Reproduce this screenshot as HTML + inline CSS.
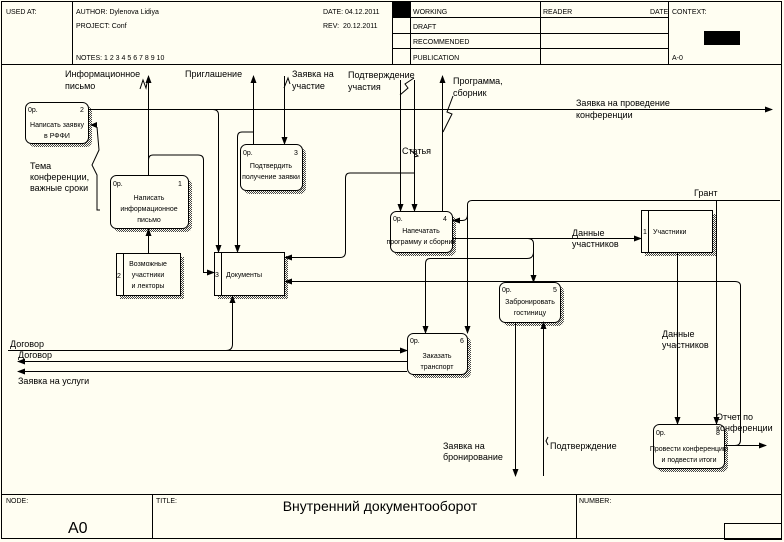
<!DOCTYPE html>
<html><head><meta charset="utf-8"><style>
body{margin:0;background:#fffef2;}
svg{display:block;font-family:"Liberation Sans",sans-serif;}
text{fill:#000;}
.s{font-size:7px;}
.l{font-size:9px;}
</style></head><body>
<svg width="784" height="542" viewBox="0 0 784 542" xmlns="http://www.w3.org/2000/svg">
<defs>
<pattern id="h" width="2" height="2" patternUnits="userSpaceOnUse"><rect width="1" height="1" fill="#444"/><rect x="1" y="1" width="1" height="1" fill="#444"/></pattern>
<marker id="a" markerWidth="8" markerHeight="6" refX="7" refY="3" orient="auto" markerUnits="userSpaceOnUse"><path d="M0,0L8,3L0,6z" fill="#000"/></marker>
</defs>
<rect x="0" y="0" width="784" height="542" fill="#fffef2"/>
<g stroke="#000" stroke-width="1" fill="none">
<rect x="1.5" y="1.5" width="780" height="537"/>
<line x1="1" y1="64.5" x2="782" y2="64.5"/>
<line x1="72.5" y1="1" x2="72.5" y2="64"/>
<line x1="392.5" y1="1" x2="392.5" y2="64"/>
<line x1="410.5" y1="1" x2="410.5" y2="64"/>
<line x1="540.5" y1="1" x2="540.5" y2="64"/>
<line x1="668.5" y1="1" x2="668.5" y2="64"/>
<line x1="392" y1="17.5" x2="668" y2="17.5"/>
<line x1="392" y1="33.5" x2="668" y2="33.5"/>
<line x1="392" y1="48.5" x2="668" y2="48.5"/>
<line x1="1" y1="494.5" x2="782" y2="494.5"/>
<line x1="152.5" y1="494" x2="152.5" y2="539"/>
<line x1="576.5" y1="494" x2="576.5" y2="539"/>
<rect x="724.5" y="523.5" width="57" height="16"/>
</g>
<rect x="393" y="2" width="17" height="16" fill="#000"/>
<rect x="704" y="31" width="36" height="14" fill="#000"/>
<g class="s">
<text x="6" y="14">USED AT:</text>
<text x="76" y="14">AUTHOR: Dylenova Lidiya</text>
<text x="76" y="28">PROJECT: Conf</text>
<text x="76" y="60">NOTES: 1 2 3 4 5 6 7 8 9 10</text>
<text x="323" y="14">DATE: 04.12.2011</text>
<text x="323" y="28">REV: &#160;20.12.2011</text>
<text x="413" y="14">WORKING</text>
<text x="413" y="29">DRAFT</text>
<text x="413" y="44">RECOMMENDED</text>
<text x="413" y="60">PUBLICATION</text>
<text x="543" y="14">READER</text>
<text x="650" y="14">DATE</text>
<text x="672" y="14">CONTEXT:</text>
<text x="672" y="60">A-0</text>
<text x="6" y="503">NODE:</text>
<text x="156" y="503">TITLE:</text>
<text x="579" y="503">NUMBER:</text>
</g>
<text x="68" y="533" style="font-size:16px">A0</text>
<text x="380" y="511" text-anchor="middle" style="font-size:14px">Внутренний документооборот</text>

<g fill="url(#h)">
<rect x="29" y="106" width="63" height="41" rx="6"/>
<rect x="114" y="179" width="78" height="53" rx="6"/>
<rect x="244" y="148" width="62" height="46" rx="6"/>
<rect x="394" y="215" width="62" height="41" rx="6"/>
<rect x="503" y="286" width="61" height="40" rx="6"/>
<rect x="411" y="337" width="60" height="41" rx="6"/>
<rect x="657" y="428" width="71" height="44" rx="6"/>
<rect x="120" y="257" width="64" height="42"/>
<rect x="218" y="256" width="70" height="43"/>
<rect x="645" y="214" width="71" height="42"/>
</g>
<g fill="#fffef2" stroke="#000">
<rect x="25.5" y="102.5" width="63" height="41" rx="6"/>
<rect x="110.5" y="175.5" width="78" height="53" rx="6"/>
<rect x="240.5" y="144.5" width="62" height="46" rx="6"/>
<rect x="390.5" y="211.5" width="62" height="41" rx="6"/>
<rect x="499.5" y="282.5" width="61" height="40" rx="6"/>
<rect x="407.5" y="333.5" width="60" height="41" rx="6"/>
<rect x="653.5" y="424.5" width="71" height="44" rx="6"/>
<rect x="116.5" y="253.5" width="64" height="42"/>
<rect x="214.5" y="252.5" width="70" height="43"/>
<rect x="641.5" y="210.5" width="71" height="42"/>
</g>
<g stroke="#000"><line x1="123.5" y1="253" x2="123.5" y2="296"/><line x1="221.5" y1="252" x2="221.5" y2="296"/><line x1="648.5" y1="210" x2="648.5" y2="253"/></g>
<g class="s">
<text x="28" y="112">0р.</text><text x="80" y="112">2</text>
<text x="57" y="127" text-anchor="middle">Написать заявку</text><text x="57" y="138" text-anchor="middle">в РФФИ</text>
<text x="113" y="186">0р.</text><text x="178" y="186">1</text>
<text x="149" y="200" text-anchor="middle">Написать</text><text x="149" y="211" text-anchor="middle">информационное</text><text x="149" y="222" text-anchor="middle">письмо</text>
<text x="243" y="155">0р.</text><text x="294" y="155">3</text>
<text x="271" y="168" text-anchor="middle">Подтвердить</text><text x="271" y="179" text-anchor="middle">получение заявки</text>
<text x="393" y="221">0р.</text><text x="443" y="221">4</text>
<text x="421" y="233" text-anchor="middle">Напечатать</text><text x="421" y="244" text-anchor="middle">программу и сборник</text>
<text x="502" y="292">0р.</text><text x="553" y="292">5</text>
<text x="530" y="304" text-anchor="middle">Забронировать</text><text x="530" y="315" text-anchor="middle">гостиницу</text>
<text x="410" y="343">0р.</text><text x="460" y="343">6</text>
<text x="437" y="358" text-anchor="middle">Заказать</text><text x="437" y="369" text-anchor="middle">транспорт</text>
<text x="656" y="435">0р.</text><text x="716" y="435">8</text>
<text x="689" y="451" text-anchor="middle">Провести конференцию</text><text x="689" y="462" text-anchor="middle">и подвести итоги</text>
<text x="117" y="278">2</text>
<text x="148" y="266" text-anchor="middle">Возможные</text><text x="148" y="277" text-anchor="middle">участники</text><text x="148" y="288" text-anchor="middle">и лекторы</text>
<text x="215" y="277">3</text><text x="226" y="277">Документы</text>
<text x="643" y="234">1</text><text x="653" y="234">Участники</text>
</g>

<g stroke="#000" fill="none" marker-end="url(#a)">
<line x1="88" y1="109.5" x2="772" y2="109.5"/>
<line x1="148.5" y1="175" x2="148.5" y2="76"/>
<line x1="148.5" y1="253" x2="148.5" y2="229"/>
<path d="M148.5,160 Q148.5,155 153,155 L198,155 Q203.5,155 203.5,160 L203.5,272.5 L214,272.5"/>
<line x1="253.5" y1="144" x2="253.5" y2="76"/>
<path d="M253.5,132 L242,132 Q237.5,132 237.5,137 L237.5,252"/>
<path d="M213,109.5 Q218.5,109.5 218.5,115 L218.5,252"/>
<line x1="284.5" y1="76" x2="284.5" y2="144"/>
<line x1="400.5" y1="80" x2="400.5" y2="211"/>
<line x1="414.5" y1="80" x2="414.5" y2="211"/>
<path d="M414.5,173 L350,173 Q345.5,173 345.5,178 L345.5,252 Q345.5,257.5 340,257.5 L285,257.5"/>
<line x1="442.5" y1="211" x2="442.5" y2="76"/>
<path d="M780,200.5 L472,200.5 Q467.5,200.5 467.5,205 L467.5,333"/>
<path d="M467.5,215 Q467.5,220.5 462,220.5 L453,220.5"/>
<line x1="716.5" y1="200" x2="716.5" y2="424"/>
<line x1="452" y1="238.5" x2="641" y2="238.5"/>
<path d="M528,238.5 Q533.5,238.5 533.5,244 L533.5,282"/>
<path d="M533.5,252 Q533.5,258.5 527,258.5 L430,258.5 Q425.5,258.5 425.5,264 L425.5,333"/>
<line x1="677.5" y1="252" x2="677.5" y2="424"/>
<path d="M724,445.5 L735,445.5 Q740.5,445.5 740.5,440 L740.5,286 Q740.5,281.5 735,281.5 L285,281.5"/>
<line x1="724" y1="445.5" x2="766" y2="445.5"/>
<line x1="515.5" y1="322" x2="515.5" y2="476"/>
<line x1="543.5" y1="476" x2="543.5" y2="322"/>
<path d="M226,350.5 Q232.5,350.5 232.5,344 L232.5,296"/>
<line x1="8" y1="350.5" x2="407" y2="350.5"/>
<line x1="407" y1="361.5" x2="18" y2="361.5"/>
<line x1="407" y1="371.5" x2="18" y2="371.5"/>
</g>
<g stroke="#000" fill="none">
<path d="M100,210 L97,210 L97,175 L92,165 L99,150 L97,127"/>
<path d="M140,89 L143,80 L146,88 L148,78"/>
<path d="M284,88 L288,78 L290,84"/>
<path d="M400,95 L408,88 L405,84 L414,78"/>
<path d="M453,96 L447,112 L452,114 L443,132"/>
<path d="M410,150 L418,156 L414,157"/>
<path d="M548,445 L546,441 L548,437"/>
</g>
<path d="M90,125 L97,122 L97,128z" fill="#000"/>

<g class="l">
<text x="65" y="77">Информационное</text><text x="65" y="89">письмо</text>
<text x="185" y="77">Приглашение</text>
<text x="292" y="77">Заявка на</text><text x="292" y="89">участие</text>
<text x="348" y="78">Подтверждение</text><text x="348" y="90">участия</text>
<text x="453" y="84">Программа,</text><text x="453" y="96">сборник</text>
<text x="576" y="106">Заявка на проведение</text><text x="576" y="118">конференции</text>
<text x="402" y="154">Статья</text>
<text x="30" y="169">Тема</text><text x="30" y="180">конференции,</text><text x="30" y="191">важные сроки</text>
<text x="694" y="196">Грант</text>
<text x="572" y="236">Данные</text><text x="572" y="247">участников</text>
<text x="662" y="337">Данные</text><text x="662" y="348">участников</text>
<text x="716" y="420">Отчет по</text><text x="716" y="431">конференции</text>
<text x="443" y="449">Заявка на</text><text x="443" y="460">бронирование</text>
<text x="550" y="449">Подтверждение</text>
<text x="10" y="347">Договор</text>
<text x="18" y="358">Договор</text>
<text x="18" y="384">Заявка на услуги</text>
</g>
</svg>
</body></html>
